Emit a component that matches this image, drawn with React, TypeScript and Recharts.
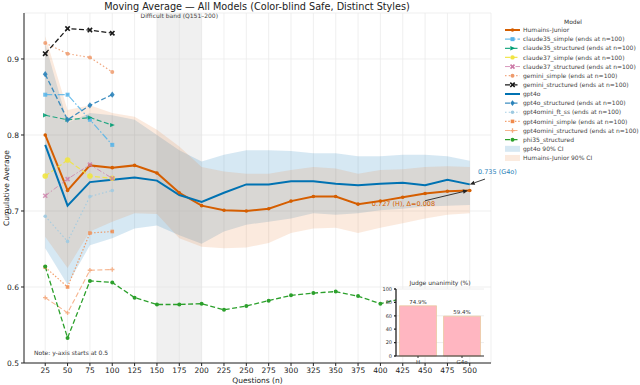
import React from 'react'
import {
  ComposedChart, Line, Area, XAxis, YAxis, CartesianGrid, ReferenceArea, ReferenceLine, Legend,
  BarChart, Bar, LabelList,
} from 'recharts'

// cumulative averages at n = 25 .. 500
const questions = [25, 50, 75, 100, 125, 150, 175, 200, 225, 250, 275, 300, 325, 350, 375, 400, 425, 450, 475, 500]
const yTicks = [0.5, 0.6, 0.7, 0.8, 0.9]

const humainsJunior = [0.8, 0.727, 0.76, 0.757, 0.76, 0.75, 0.724, 0.707, 0.701, 0.7, 0.703, 0.713, 0.719, 0.719, 0.709, 0.713, 0.718, 0.723, 0.726, 0.727]
const gpt4o = [0.787, 0.707, 0.738, 0.741, 0.744, 0.74, 0.721, 0.712, 0.724, 0.735, 0.735, 0.739, 0.739, 0.736, 0.734, 0.736, 0.737, 0.734, 0.741, 0.735]

const gpt4oCiLow = [0.651, 0.603, 0.655, 0.664, 0.677, 0.681, 0.668, 0.657, 0.673, 0.682, 0.686, 0.69, 0.697, 0.695, 0.697, 0.701, 0.703, 0.706, 0.707, 0.708]
const gpt4oCiHigh = [0.92, 0.816, 0.829, 0.826, 0.82, 0.8, 0.78, 0.765, 0.774, 0.78, 0.78, 0.779, 0.776, 0.776, 0.772, 0.772, 0.774, 0.774, 0.772, 0.766]
const humainsCiLow = [0.666, 0.625, 0.673, 0.686, 0.697, 0.696, 0.664, 0.653, 0.651, 0.652, 0.658, 0.671, 0.677, 0.678, 0.671, 0.678, 0.684, 0.69, 0.695, 0.697]
const humainsCiHigh = [0.93, 0.833, 0.839, 0.829, 0.824, 0.807, 0.785, 0.758, 0.752, 0.749, 0.749, 0.754, 0.758, 0.756, 0.749, 0.754, 0.755, 0.758, 0.759, 0.758]

// models that stop at n=100
const claude35Simple = [0.853, 0.853, 0.82, 0.787]
const claude35Structured = [0.826, 0.82, 0.823, 0.813]
const claude37Simple = [0.746, 0.767, 0.746, 0.743]
const claude37Structured = [0.72, 0.742, 0.761, 0.743]
const geminiSimple = [0.921, 0.907, 0.902, 0.883]
const geminiStructured = [0.907, 0.94, 0.938, 0.934]
const gpt4oStructured = [0.88, 0.82, 0.839, 0.853]
const gpt4ominiFtSs = [0.693, 0.66, 0.719, 0.727]
const gpt4ominiSimple = [0.626, 0.6, 0.671, 0.673]
const gpt4ominiStructured = [0.586, 0.566, 0.622, 0.623]
const phi35Structured = [0.627, 0.533, 0.608, 0.606, 0.586, 0.577, 0.577, 0.578, 0.57, 0.575, 0.582, 0.589, 0.592, 0.594, 0.588, 0.578, 0.585, 0.59, 0.59, 0.59]

// inset
const unanimityLabels = ['H', 'G4o']
const unanimityValues = [74.9, 59.4]

type Shape = 'circle' | 'square' | 'diamond' | 'triangle' | 'x' | 'plus' | 'none'

interface Series {
  key: string
  label: string
  values: number[]
  color: string
  width: number
  dash?: string
  marker: Shape
  size: number
  opacity: number
}

const series: Series[] = [
  { key: 'hj', label: 'Humains-Junior', values: humainsJunior, color: '#D55E00', width: 2, marker: 'circle', size: 1.8, opacity: 1 },
  { key: 'c35s', label: 'claude35_simple (ends at n=100)', values: claude35Simple, color: '#56B4E9', width: 1.2, dash: '7 2 1.5 2', marker: 'square', size: 2, opacity: 0.85 },
  { key: 'c35st', label: 'claude35_structured (ends at n=100)', values: claude35Structured, color: '#009E73', width: 1.2, dash: '5 2.5', marker: 'triangle', size: 2.2, opacity: 0.85 },
  { key: 'c37s', label: 'claude37_simple (ends at n=100)', values: claude37Simple, color: '#F0E442', width: 1.2, dash: '5 2.5', marker: 'circle', size: 2.8, opacity: 0.9 },
  { key: 'c37st', label: 'claude37_structured (ends at n=100)', values: claude37Structured, color: '#CC79A7', width: 1, dash: '5 2 1.5 2', marker: 'x', size: 2, opacity: 0.75 },
  { key: 'gems', label: 'gemini_simple (ends at n=100)', values: geminiSimple, color: '#EE9A6C', width: 1.2, dash: '1.5 2.2', marker: 'circle', size: 2, opacity: 0.85 },
  { key: 'gemst', label: 'gemini_structured (ends at n=100)', values: geminiStructured, color: '#1a1a1a', width: 1.3, dash: '5 2.5', marker: 'x', size: 2.2, opacity: 1 },
  { key: 'g4o', label: 'gpt4o', values: gpt4o, color: '#0072B2', width: 2, marker: 'none', size: 0, opacity: 1 },
  { key: 'g4ost', label: 'gpt4o_structured (ends at n=100)', values: gpt4oStructured, color: '#2B83BA', width: 1.3, dash: '5 2.5', marker: 'diamond', size: 2.4, opacity: 0.9 },
  { key: 'g4mft', label: 'gpt4omini_ft_ss (ends at n=100)', values: gpt4ominiFtSs, color: '#9ECAE1', width: 1.1, dash: '1.5 2.2', marker: 'circle', size: 1.8, opacity: 0.9 },
  { key: 'g4ms', label: 'gpt4omini_simple (ends at n=100)', values: gpt4ominiSimple, color: '#F08A4B', width: 1.2, dash: '1.5 1.8', marker: 'square', size: 1.8, opacity: 0.8 },
  { key: 'g4mst', label: 'gpt4omini_structured (ends at n=100)', values: gpt4ominiStructured, color: '#F4A77A', width: 1.1, dash: '5 2.5', marker: 'plus', size: 2.2, opacity: 0.85 },
  { key: 'phi', label: 'phi35_structured', values: phi35Structured, color: '#2CA02C', width: 1.3, dash: '5 2.5', marker: 'circle', size: 2, opacity: 1 },
]

const bands = [
  { key: 'g4oCI', label: 'gpt4o 90% CI', color: '#0072B2', opacity: 0.16 },
  { key: 'hjCI', label: 'Humains-Junior 90% CI', color: '#E8833A', opacity: 0.17 },
]

const data = questions.map((n, i) => {
  const row: Record<string, unknown> = {
    n,
    g4oCI: [gpt4oCiLow[i], gpt4oCiHigh[i]],
    hjCI: [humainsCiLow[i], humainsCiHigh[i]],
  }
  series.forEach(s => { row[s.key] = s.values[i] ?? null })
  return row
})

const unanimity = unanimityLabels.map((name, i) => ({ name, value: unanimityValues[i] }))

const FONT = '"DejaVu Sans", sans-serif'

function Marker({ shape, x, y, color, size }: { shape: Shape; x: number; y: number; color: string; size: number }) {
  const s = size
  if (shape === 'circle') return <circle cx={x} cy={y} r={s} fill={color} />
  if (shape === 'square') return <rect x={x - s} y={y - s} width={s * 2} height={s * 2} fill={color} />
  if (shape === 'diamond') return <polygon points={`${x},${y - s * 1.3} ${x + s},${y} ${x},${y + s * 1.3} ${x - s},${y}`} fill={color} />
  if (shape === 'triangle') return <polygon points={`${x - s},${y - s} ${x + s * 1.2},${y} ${x - s},${y + s}`} fill={color} />
  if (shape === 'x') return <path d={`M${x - s},${y - s}L${x + s},${y + s}M${x - s},${y + s}L${x + s},${y - s}`} stroke={color} strokeWidth={1.6} />
  if (shape === 'plus') return <path d={`M${x - s},${y}L${x + s},${y}M${x},${y - s}L${x},${y + s}`} stroke={color} strokeWidth={1.3} />
  return null
}

function Arrow(props: any, text: string, color: string, tx: number, ty: number, anchor: 'start' | 'end') {
  const { x1, y1, x2, y2 } = props
  const a = Math.atan2(y2 - y1, x2 - x1)
  const L = 5
  const W = 2.2
  const bx = x2 - L * Math.cos(a)
  const by = y2 - L * Math.sin(a)
  const p1 = `${bx + W * Math.sin(a)},${by - W * Math.cos(a)}`
  const p2 = `${bx - W * Math.sin(a)},${by + W * Math.cos(a)}`
  return (
    <g>
      <line x1={x1} y1={y1} x2={bx} y2={by} stroke="#222" strokeWidth={0.9} />
      <polygon points={`${x2},${y2} ${p1} ${p2}`} fill="#222" />
      <text x={x1 + tx} y={y1 + ty} textAnchor={anchor} fontSize={6.5} fill={color} fontFamily={FONT}>{text}</text>
    </g>
  )
}

function ModelLegend() {
  const rowH = 9.14
  return (
    <svg width={140} height={150} style={{ fontFamily: FONT }}>
      <text x={73} y={10} textAnchor="middle" fontSize={6} fill="#333">Model</text>
      {series.map((s, i) => {
        const cy = 16 + rowH * i
        return (
          <g key={s.key}>
            <line x1={5} x2={20} y1={cy} y2={cy} stroke={s.color} strokeWidth={s.width} strokeDasharray={s.dash} strokeOpacity={s.opacity} />
            <Marker shape={s.marker} x={12.5} y={cy} color={s.color} size={Math.min(s.size, 2.2)} />
            <text x={23} y={cy + 2.2} fontSize={6} fill="#444">{s.label}</text>
          </g>
        )
      })}
      {bands.map((b, j) => {
        const cy = 16 + rowH * (series.length + j)
        return (
          <g key={b.key}>
            <rect x={5} y={cy - 3} width={15} height={6} fill={b.color} fillOpacity={b.opacity} />
            <text x={23} y={cy + 2.2} fontSize={6} fill="#444">{b.label}</text>
          </g>
        )
      })}
    </svg>
  )
}

export default function App() {
  const tick = { fontSize: 7.5, fill: '#222', fontFamily: FONT }
  return (
    <div style={{ position: 'relative', width: 640, height: 385, background: '#fff', fontFamily: FONT }}>
      <style>{'body{margin:0}'}</style>
      <div style={{ position: 'absolute', left: 0, top: 0, width: 514, textAlign: 'center', fontSize: 9.7, lineHeight: '14px', color: '#222' }}>
        Moving Average — All Models (Color-blind Safe, Distinct Styles)
      </div>
      <ComposedChart width={640} height={385} data={data} margin={{ top: 13, right: 149, bottom: 0, left: 0 }}>
        <CartesianGrid stroke="#ebebeb" strokeWidth={0.8} />
        <ReferenceArea x1={150} x2={200} fill="#dedede" fillOpacity={0.45} stroke="none"
          label={{ value: 'Difficult band (Q151–200)', position: 'insideTop', offset: 1, fontSize: 6, fill: '#444', fontFamily: FONT }} />
        <XAxis dataKey="n" type="number" domain={[1.25, 523.75]} ticks={questions} interval={0} allowDataOverflow
          tick={tick} tickSize={3} height={22} stroke="#222"
          label={{ value: 'Questions (n)', position: 'insideBottom', offset: 2, fontSize: 7.5, fill: '#222', fontFamily: FONT }} />
        <YAxis type="number" domain={[0.5, 0.9605]} ticks={yTicks} allowDataOverflow width={24}
          tick={tick} tickSize={3} stroke="#222" tickFormatter={(v: number) => v.toFixed(1)}
          label={{ value: 'Cumulative Average', angle: -90, position: 'insideLeft', offset: 6, fontSize: 7.5, fill: '#222', fontFamily: FONT, style: { textAnchor: 'middle' } }} />
        {bands.map(b => (
          <Area key={b.key} dataKey={b.key} type="linear" fill={b.color} fillOpacity={b.opacity} stroke="none"
            isAnimationActive={false} activeDot={false} />
        ))}
        {series.map(s => (
          <Line key={s.key} dataKey={s.key} type="linear" stroke={s.color} strokeWidth={s.width}
            strokeDasharray={s.dash} strokeOpacity={s.opacity} isAnimationActive={false} activeDot={false}
            dot={(p: any) => (p.cx == null || p.cy == null || p.value == null
              ? <g key={`${s.key}-${p.index}`} />
              : <g key={`${s.key}-${p.index}`} opacity={s.opacity}><Marker shape={s.marker} x={p.cx} y={p.cy} color={s.color} size={s.size} /></g>)} />
        ))}
        <ReferenceLine segment={[{ x: 517, y: 0.742 }, { x: 500, y: gpt4o[gpt4o.length - 1] }]} ifOverflow="visible"
          shape={(p: any) => Arrow(p, '0.735 (G4o)', '#2B83BA', -7, -5, 'start')} />
        <ReferenceLine segment={[{ x: 450, y: 0.7135 }, { x: 498, y: humainsJunior[humainsJunior.length - 1] }]} ifOverflow="visible"
          shape={(p: any) => Arrow(p, '0.727 (H), Δ=0.008', '#D55E00', 10, 5.5, 'end')} />
        <Legend content={() => <ModelLegend />} layout="vertical" align="center" verticalAlign="middle"
          wrapperStyle={{ left: 500, top: 14, width: 140, height: 150 }} />
      </ComposedChart>
      <div style={{ position: 'absolute', left: 34, top: 349, fontSize: 6, color: '#333', whiteSpace: 'nowrap' }}>
        Note: y-axis starts at 0.5
      </div>
      <div style={{ position: 'absolute', left: 390, top: 279, width: 100, textAlign: 'center', fontSize: 6, color: '#333' }}>
        Judge unanimity (%)
      </div>
      <div style={{ position: 'absolute', left: 378, top: 276 }}>
        <BarChart width={112} height={92} data={unanimity} margin={{ top: 13, right: 6, bottom: 0, left: 0 }} barCategoryGap="8%">
          <CartesianGrid fill="#fff" stroke="#eeeeee" vertical={false} />
          <XAxis dataKey="name" tick={{ fontSize: 5.5, fill: '#333', fontFamily: FONT }} tickSize={2} height={12} stroke="#333" />
          <YAxis domain={[0, 100]} ticks={[0, 20, 40, 60, 80, 100]} width={18} tickSize={2}
            tick={{ fontSize: 5, fill: '#333', fontFamily: FONT }} stroke="#222" strokeWidth={1.3} />
          <Bar dataKey="value" fill="#FFB6C1" stroke="#E8C9A0" strokeWidth={0.8} isAnimationActive={false}>
            <LabelList dataKey="value" position="top" offset={2} fontSize={5.5} fill="#333" fontFamily={FONT}
              formatter={(v: any) => `${Number(v).toFixed(1)}%`} />
          </Bar>
        </BarChart>
      </div>
    </div>
  )
}
